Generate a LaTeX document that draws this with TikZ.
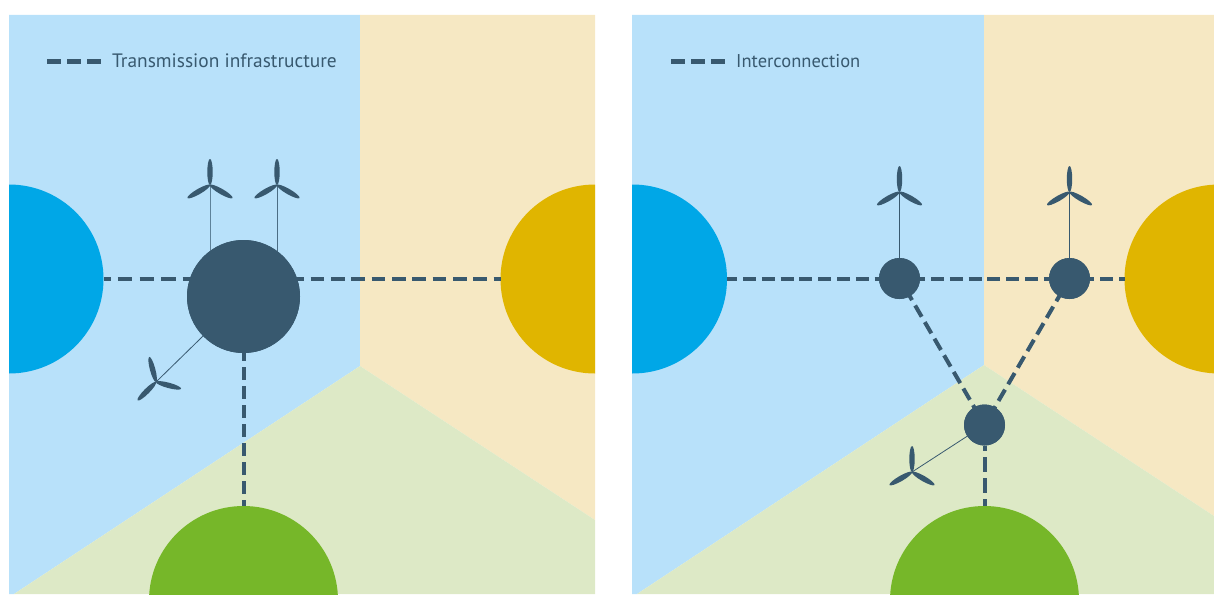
\documentclass[tikz,border=0pt]{standalone}
\usepackage{fontspec}
\setmainfont{PT Sans}
\definecolor{zblue}{HTML}{B8E1FA}
\definecolor{zbeige}{HTML}{F6E8C3}
\definecolor{zgreen}{HTML}{DDE9C6}
\definecolor{zdark}{HTML}{38596F}
\definecolor{zcyan}{HTML}{00A7E7}
\definecolor{zyellow}{HTML}{E0B500}
\definecolor{zleaf}{HTML}{76B729}
\tikzset{
  ball/.style={circle,inner sep=0pt,outer sep=0pt,minimum size=#1},
  hubnode/.style={ball=#1,fill=zdark},
  link/.style={draw=zdark,line width=4pt},
  stem/.style={draw=zdark,line width=0.8pt},
  legendline/.style={draw=zdark,line width=4pt,dash pattern=on 14pt off 6pt},
  legendtext/.style={text=zdark,anchor=west,inner sep=0pt},
  turbine/.pic={
    \foreach \a in {90,210,330}{
      \fill[zdark,rotate=\a] (13,0) ellipse [x radius=13pt,y radius=2.7pt];
    }
  }
}
\begin{document}
\begin{tikzpicture}[x=1pt,y=-1pt]
\useasboundingbox (0,0) rectangle (1214,594);
% left panel
\fill[zblue] (9,15) -- (360,15) -- (360,366) -- (14,594) -- (9,594) -- cycle;
\fill[zbeige] (360,15) -- (595,15) -- (595,520) -- (360,366) -- cycle;
\fill[zgreen] (360,366) -- (595,520) -- (595,594) -- (14,594) -- cycle;
\begin{scope}
  \clip (9,15) rectangle (595,594);
  \node[ball=189pt,fill=zcyan] (wa) at (9,279) {};
  \node[ball=189pt,fill=zyellow] (ea) at (595,279) {};
  \node[ball=189pt,fill=zleaf] (sa) at (243.5,600.5) {};
\end{scope}
\coordinate (ta) at (210,185);
\coordinate (tb) at (277,185);
\coordinate (tc) at (156,382);
\node[hubnode=113pt] (ha) at (243.5,296.5) {};
\draw[link,dash pattern=on 14.4pt off 7.2pt,dash phase=7.2pt] (wa.east) -- (wa.east -| ha.center);
\draw[link,dash pattern=on 13.7pt off 6.63pt,dash phase=14.1pt] (wa.east -| ha.center) -- (ea.west);
\draw[link,dash pattern=on 12.7pt off 6.3pt,dash phase=5pt] (ha.south) -- (sa.north);
\draw[stem,zdark!70!zblue] (ta) -- (ta |- ha.north east);
\draw[stem,zdark!85!zblue] (tb) -- (tb |- ha.north west);
\draw[stem] (tc) -- (ha);
\node[hubnode=113pt] at (ha) {};
\pic at (ta) {turbine};
\pic at (tb) {turbine};
\pic[rotate=15] at (tc) {turbine};
\coordinate (la) at (47,61.5);
\coordinate (lb) at (101,61.5);
\draw[legendline] (la) -- (lb);
\node[legendtext,font=\fontsize{19.4}{22}\selectfont] (tl) at (112,61) {Transmission infrastructure};
% right panel
\fill[zblue] (632,15) -- (984,15) -- (984,365) -- (637,594) -- (632,594) -- cycle;
\fill[zbeige] (984,15) -- (1214,15) -- (1214,516) -- (984,365) -- cycle;
\fill[zgreen] (984,365) -- (1214,516) -- (1214,594) -- (637,594) -- cycle;
\begin{scope}
  \clip (632,15) rectangle (1214,594);
  \node[ball=189pt,fill=zcyan] (wb) at (632.5,279) {};
  \node[ball=189pt,fill=zyellow] (eb) at (1219,279) {};
  \node[ball=189pt,fill=zleaf] (sb) at (984.5,600.5) {};
\end{scope}
\coordinate (td) at (899.5,192);
\coordinate (te) at (1069.5,192);
\coordinate (tf) at (912,472);
\node[hubnode=41pt] (hb) at (899.5,278.5) {};
\node[hubnode=41pt] (hc) at (1069.5,278.5) {};
\node[hubnode=41pt] (hd) at (984.5,425) {};
\draw[link,dash pattern=on 13pt off 5.8pt,dash phase=2.8pt] (wb.east) -- (eb.west);
\draw[link,dash pattern=on 14.5pt off 6.5pt,dash phase=9.5pt] (hd.south) -- (sb.north);
\draw[link,dash pattern=on 13pt off 6.2pt,dash phase=7.2pt] (hb.center) -- (hd.center);
\draw[link,dash pattern=on 13pt off 6.2pt,dash phase=5.9pt] (hc.center) -- (hd.center);
\draw[stem] (td) -- (hb);
\draw[stem] (te) -- (hc);
\draw[stem] (tf) -- (hd);
\node[hubnode=41pt] at (hb) {};
\node[hubnode=41pt] at (hc) {};
\node[hubnode=41pt] at (hd) {};
\pic at (td) {turbine};
\pic at (te) {turbine};
\pic at (tf) {turbine};
\coordinate (lc) at (671,61.5);
\coordinate (ld) at (725,61.5);
\draw[legendline] (lc) -- (ld);
\node[legendtext,font=\fontsize{18.5}{22}\selectfont] (tr) at (736,61) {Interconnection};
\end{tikzpicture}
\end{document}
